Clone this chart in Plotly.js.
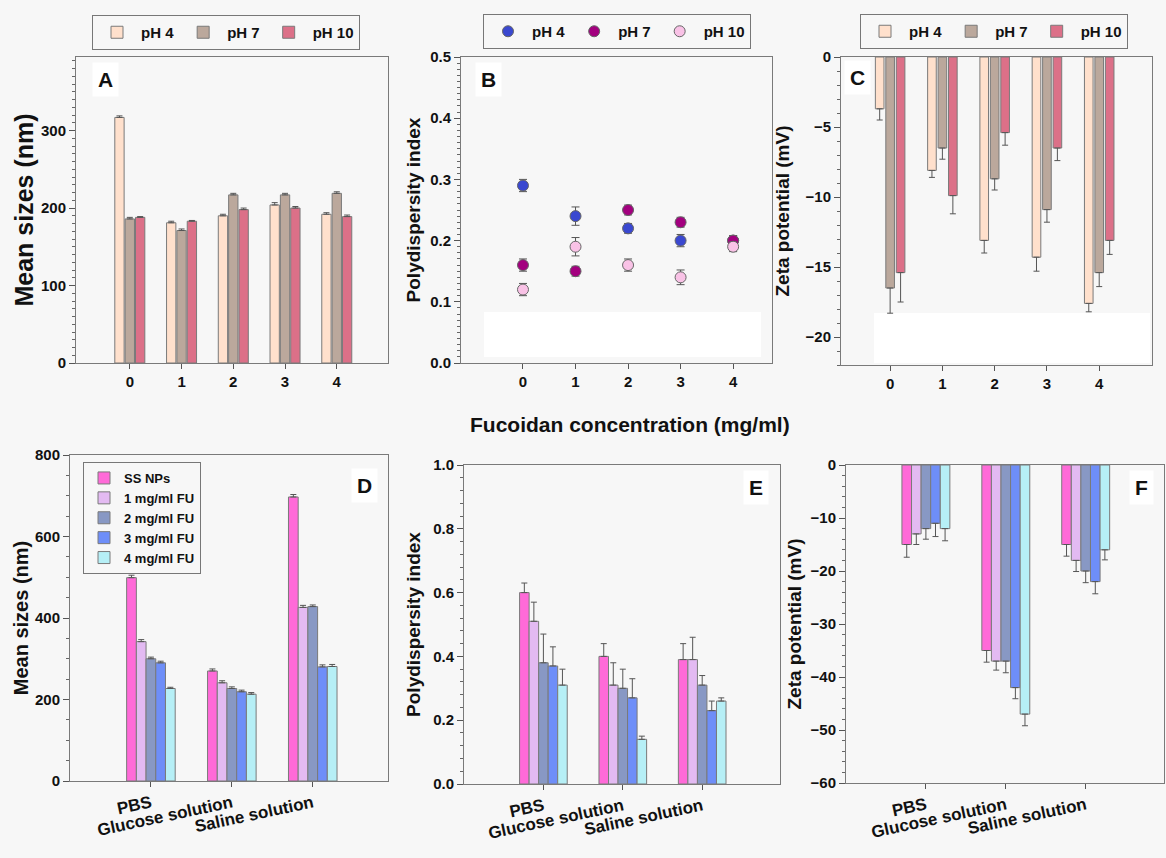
<!DOCTYPE html>
<html>
<head>
<meta charset="utf-8">
<script src="https://cdn.plot.ly/plotly-3.0.1.min.js"></script>
<style>html,body{margin:0;padding:0;background:#f7f7f7;}#chart{width:1166px;height:858px;}</style>
</head>
<body>
<div id="chart"></div>
<script>
// ---------- data ----------
const conc = [0, 1, 2, 3, 4];
const phLabels = ['pH 4', 'pH 7', 'pH 10'];

const sizePH4 = [317, 181, 190, 204, 192];
const sizePH4Err = [2, 2, 2, 3, 2];
const sizePH7 = [186, 171, 217, 217, 219];
const sizePH7Err = [2, 2, 2, 2, 2];
const sizePH10 = [188, 183, 198, 200, 189];
const sizePH10Err = [1, 1, 2, 2, 2];

const pdiPH4 = [0.29, 0.24, 0.22, 0.20, 0.20];
const pdiPH4Err = [0.01, 0.015, 0.008, 0.01, 0.008];
const pdiPH7 = [0.16, 0.15, 0.25, 0.23, 0.20];
const pdiPH7Err = [0.01, 0.008, 0.008, 0.008, 0.008];
const pdiPH10 = [0.12, 0.19, 0.16, 0.14, 0.19];
const pdiPH10Err = [0.01, 0.015, 0.01, 0.012, 0.008];

const zetaPH4 = [-3.7, -8.1, -13.1, -14.3, -17.6];
const zetaPH4Err = [0.8, 0.5, 0.9, 1.0, 0.6];
const zetaPH7 = [-16.5, -6.5, -8.7, -10.9, -15.4];
const zetaPH7Err = [1.8, 0.8, 0.8, 0.9, 1.0];
const zetaPH10 = [-15.4, -9.9, -5.4, -6.5, -13.1];
const zetaPH10Err = [2.1, 1.3, 0.9, 0.9, 1.0];

const media = ['PBS', 'Glucose solution', 'Saline solution'];
const formulations = ['SS NPs', '1 mg/ml FU', '2 mg/ml FU', '3 mg/ml FU', '4 mg/ml FU'];

const sizeSS = [499, 270, 697];
const sizeSSErr = [6, 5, 6];
const sizeFU1 = [342, 241, 426];
const sizeFU1Err = [5, 5, 5];
const sizeFU2 = [300, 227, 428];
const sizeFU2Err = [4, 4, 4];
const sizeFU3 = [290, 219, 280];
const sizeFU3Err = [4, 4, 5];
const sizeFU4 = [227, 213, 281];
const sizeFU4Err = [3, 4, 5];

const pdiSS = [0.60, 0.40, 0.39];
const pdiSSErr = [0.03, 0.04, 0.05];
const pdiFU1 = [0.51, 0.31, 0.39];
const pdiFU1Err = [0.06, 0.07, 0.07];
const pdiFU2 = [0.38, 0.30, 0.31];
const pdiFU2Err = [0.09, 0.06, 0.03];
const pdiFU3 = [0.37, 0.27, 0.23];
const pdiFU3Err = [0.06, 0.06, 0.03];
const pdiFU4 = [0.31, 0.14, 0.26];
const pdiFU4Err = [0.05, 0.01, 0.01];

const zetaSS = [-15, -35, -15];
const zetaSSErr = [2.4, 2.2, 2.2];
const zetaFU1 = [-13, -37, -18];
const zetaFU1Err = [2.0, 1.7, 2.1];
const zetaFU2 = [-12, -37, -20];
const zetaFU2Err = [2.0, 2.2, 2.2];
const zetaFU3 = [-11, -42, -22];
const zetaFU3Err = [2.5, 2.1, 2.3];
const zetaFU4 = [-12, -47, -16];
const zetaFU4Err = [2.3, 2.2, 1.9];

// ---------- styles ----------
const FONT = 'Liberation Sans, Arial, sans-serif';
const BG = '#f7f7f7';
const phBarColors = ['#ffe0cc', '#bba89c', '#dc7088'];
const phDotColors = ['#3a48d0', '#a3007f', '#f9c2e6'];
const fuColors = ['#ff6ad8', '#e3baf2', '#8898c4', '#6e8ef8', '#b6eff6'];
const W = 1166, H = 858;
const px = (a, b) => [a / W, b / W];
const py = (top, bottom) => [1 - bottom / H, 1 - top / H];
const zeros = n => new Array(n).fill(0);

const barLine = {color: '#7a7a7a', width: 1};
function errUp(arr) {
  return {type: 'data', symmetric: false, array: arr, arrayminus: zeros(arr.length),
          color: '#555', thickness: 1, width: 3};
}
function errDown(arr) {
  return {type: 'data', symmetric: false, array: zeros(arr.length), arrayminus: arr,
          color: '#555', thickness: 1, width: 3};
}

const traces = [];
// Panel A
[[sizePH4, sizePH4Err], [sizePH7, sizePH7Err], [sizePH10, sizePH10Err]].forEach((d, i) => {
  traces.push({type: 'bar', x: conc, y: d[0], name: phLabels[i], xaxis: 'x', yaxis: 'y',
    legend: 'legend', width: 0.18,
    marker: {color: phBarColors[i], line: barLine}, error_y: errUp(d[1])});
});
// Panel B
[[pdiPH4, pdiPH4Err], [pdiPH7, pdiPH7Err], [pdiPH10, pdiPH10Err]].forEach((d, i) => {
  traces.push({type: 'scatter', mode: 'markers', x: conc, y: d[0], name: phLabels[i],
    xaxis: 'x2', yaxis: 'y2', legend: 'legend2',
    marker: {color: phDotColors[i], size: 11, line: {color: '#666', width: 1}},
    error_y: {type: 'data', array: d[1], color: '#555', thickness: 1, width: 4}});
});
// Panel C
[[zetaPH4, zetaPH4Err], [zetaPH7, zetaPH7Err], [zetaPH10, zetaPH10Err]].forEach((d, i) => {
  traces.push({type: 'bar', x: conc, y: d[0], name: phLabels[i], xaxis: 'x3', yaxis: 'y3',
    legend: 'legend3', width: 0.165,
    marker: {color: phBarColors[i], line: barLine}, error_y: errDown(d[1])});
});
// Panel D
[[sizeSS, sizeSSErr], [sizeFU1, sizeFU1Err], [sizeFU2, sizeFU2Err], [sizeFU3, sizeFU3Err], [sizeFU4, sizeFU4Err]].forEach((d, i) => {
  traces.push({type: 'bar', x: media, y: d[0], name: formulations[i], xaxis: 'x4', yaxis: 'y4',
    legend: 'legend4',
    marker: {color: fuColors[i], line: barLine}, error_y: errUp(d[1])});
});
// Panel E
[[pdiSS, pdiSSErr], [pdiFU1, pdiFU1Err], [pdiFU2, pdiFU2Err], [pdiFU3, pdiFU3Err], [pdiFU4, pdiFU4Err]].forEach((d, i) => {
  traces.push({type: 'bar', x: media, y: d[0], name: formulations[i], xaxis: 'x5', yaxis: 'y5',
    showlegend: false,
    marker: {color: fuColors[i], line: barLine}, error_y: errUp(d[1])});
});
// Panel F
[[zetaSS, zetaSSErr], [zetaFU1, zetaFU1Err], [zetaFU2, zetaFU2Err], [zetaFU3, zetaFU3Err], [zetaFU4, zetaFU4Err]].forEach((d, i) => {
  traces.push({type: 'bar', x: media, y: d[0], name: formulations[i], xaxis: 'x6', yaxis: 'y6',
    showlegend: false,
    marker: {color: fuColors[i], line: barLine}, error_y: errDown(d[1])});
});

const tickFont = {family: FONT, size: 15, color: '#111', weight: 'bold'};
function xAx(domain, range, anchor, extra) {
  return Object.assign({domain: domain, range: range, anchor: anchor, automargin: false,
    showline: true, mirror: true, linecolor: '#7a7a7a', linewidth: 1,
    ticks: 'outside', ticklen: 5, tickcolor: '#555',
    showgrid: false, zeroline: false, tickfont: tickFont, fixedrange: true}, extra || {});
}
function yAx(domain, range, anchor, title, titleSize, standoff, dtick, minorDtick, extra) {
  return Object.assign({domain: domain, range: range, anchor: anchor, automargin: false,
    showline: true, mirror: true, linecolor: '#7a7a7a', linewidth: 1,
    ticks: 'outside', ticklen: 6, tickcolor: '#555', dtick: dtick,
    minor: {dtick: minorDtick, ticks: 'outside', ticklen: 3, tickcolor: '#666', showgrid: false},
    showgrid: false, zeroline: false, tickfont: tickFont, fixedrange: true,
    title: {text: title, standoff: standoff, font: {family: FONT, size: titleSize, color: '#111', weight: 'bold'}}},
    extra || {});
}
const catTickFont = {family: FONT, size: 17, color: '#111', weight: 'bold'};
const legFont = {family: FONT, size: 15, color: '#111', weight: 'bold'};

const layout = {
  width: W, height: H,
  margin: {l: 0, r: 0, t: 0, b: 0, autoexpand: false},
  paper_bgcolor: BG, plot_bgcolor: BG,
  font: {family: FONT, color: '#111'},
  barmode: 'group', bargap: 0.4, bargroupgap: 0,
  xaxis: xAx(px(76, 388), [-1.04, 4.99], 'y', {tickvals: conc}),
  yaxis: yAx(py(57, 363), [0, 395], 'x', 'Mean sizes (nm)', 25, 0, 100, 10),
  xaxis2: xAx(px(461, 772), [-1.18, 4.74], 'y2', {tickvals: conc}),
  yaxis2: yAx(py(57, 363), [0, 0.5], 'x2', 'Polydispersity index', 19, 4, 0.1, 0.01, {tickformat: '.1f'}),
  xaxis3: xAx(px(841, 1152), [-0.94, 5.01], 'y3', {tickvals: conc}),
  yaxis3: yAx(py(57, 365), [-22, 0], 'x3', 'Zeta potential (mV)', 19, 10, 5, 1),
  xaxis4: xAx(px(70, 388), [-1, 2.93], 'y4', {type: 'category', tickangle: -12, tickfont: catTickFont}),
  yaxis4: yAx(py(455, 781), [0, 800], 'x4', 'Mean sizes (nm)', 20, 0, 200, 50),
  xaxis5: xAx(px(464, 780), [-1, 2.98], 'y5', {type: 'category', tickangle: -12, tickfont: catTickFont}),
  yaxis5: yAx(py(465, 784), [0, 1], 'x5', 'Polydispersity index', 19, 7, 0.2, 0.04, {tickformat: '.1f'}),
  xaxis6: xAx(px(846, 1164), [-1, 2.98], 'y6', {type: 'category', tickangle: -12, tickfont: catTickFont}),
  yaxis6: yAx(py(465, 783), [-60, 0], 'x6', 'Zeta potential (mV)', 19, 3, 10, 2),
  legend: {orientation: 'h', x: 92 / W, y: 1 - 15 / H, xanchor: 'left', yanchor: 'top', itemwidth: 38,
    bgcolor: BG, bordercolor: '#777', borderwidth: 1, font: legFont},
  legend2: {orientation: 'h', x: 483 / W, y: 1 - 14 / H, xanchor: 'left', yanchor: 'top', itemwidth: 38,
    bgcolor: BG, bordercolor: '#777', borderwidth: 1, font: legFont},
  legend3: {orientation: 'h', x: 860 / W, y: 1 - 14 / H, xanchor: 'left', yanchor: 'top', itemwidth: 38,
    bgcolor: BG, bordercolor: '#777', borderwidth: 1, font: legFont},
  legend4: {orientation: 'v', x: 83 / W, y: 1 - 462 / H, xanchor: 'left', yanchor: 'top',
    bgcolor: BG, bordercolor: '#777', borderwidth: 1, tracegroupgap: 0,
    font: {family: FONT, size: 13, color: '#111', weight: 'bold'}},
  shapes: [
    {type: 'rect', xref: 'paper', yref: 'paper', layer: 'below',
     x0: 484 / W, x1: 761 / W, y0: 1 - 357 / H, y1: 1 - 312 / H,
     fillcolor: '#ffffff', line: {width: 0}},
    {type: 'rect', xref: 'paper', yref: 'paper', layer: 'below',
     x0: 874 / W, x1: 1150 / W, y0: 1 - 363 / H, y1: 1 - 313 / H,
     fillcolor: '#ffffff', line: {width: 0}}
  ],
  annotations: [
    {text: 'Fucoidan concentration (mg/ml)', xref: 'paper', yref: 'paper', x: 630 / W, y: 1 - 425 / H,
     xanchor: 'center', yanchor: 'middle',
     showarrow: false, font: {family: FONT, size: 21, color: '#111', weight: 'bold'}},
  ]
};

const labels = [['A', 105, 80], ['B', 488, 79], ['C', 857, 77], ['D', 364, 485], ['E', 756, 487], ['F', 1141, 487]];
labels.forEach(l => {
  layout.annotations.push({text: l[0], xref: 'paper', yref: 'paper', x: l[1] / W, y: 1 - l[2] / H,
    xanchor: 'center', yanchor: 'middle',
    showarrow: false, bgcolor: '#ffffff', borderpad: 5,
    font: {family: FONT, size: 21, color: '#111', weight: 'bold'}});
});

Plotly.newPlot('chart', traces, layout, {displayModeBar: false, staticPlot: true});
</script>
</body>
</html>
